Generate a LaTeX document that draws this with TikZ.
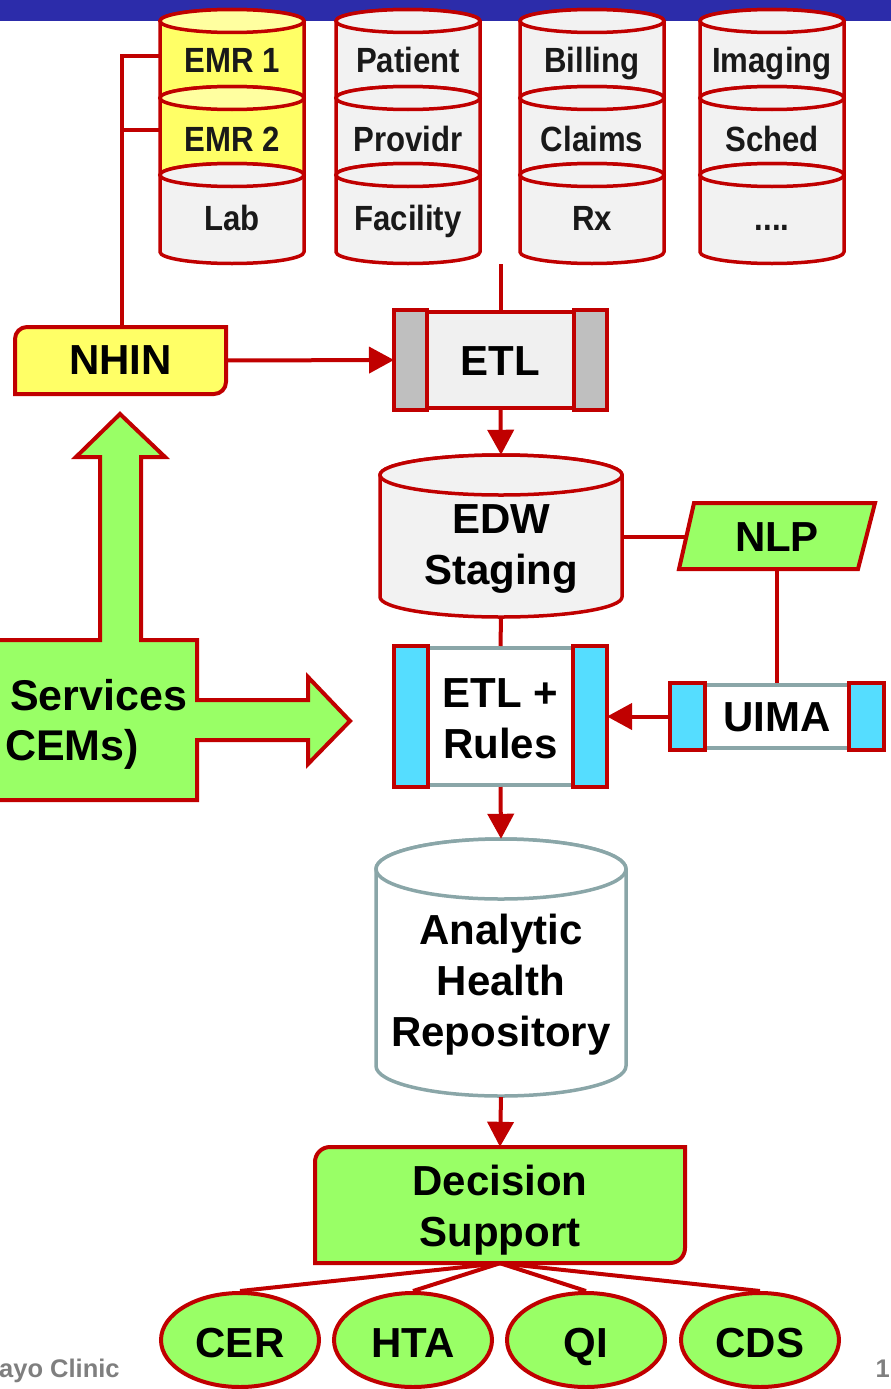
\documentclass[tikz,border=0pt]{standalone}
\usepackage{fontspec}
\setmainfont{Liberation Sans}
\usetikzlibrary{arrows.meta,shapes.geometric}
\definecolor{myred}{RGB}{192,0,0}
\definecolor{barblue}{RGB}{44,44,170}
\definecolor{yside}{RGB}{255,255,102}
\definecolor{ytop}{RGB}{255,255,160}
\definecolor{grayfill}{RGB}{242,242,242}
\definecolor{etlmid}{RGB}{240,240,240}
\definecolor{etlbar}{RGB}{191,191,191}
\definecolor{lgreen}{RGB}{153,255,102}
\definecolor{lcyan}{RGB}{85,221,255}
\definecolor{tealgray}{RGB}{138,166,168}
\definecolor{footgray}{RGB}{127,127,127}
\newcommand\dbcyl[8]{%
  \filldraw[draw=#8, fill=#6, line width=3.5pt, line join=round]
    (#1-#4,-#2) -- (#1-#4,-#3) arc[start angle=180,end angle=360,x radius=#4,y radius=#5]
    -- (#1+#4,-#2) arc[start angle=0,end angle=180,x radius=#4,y radius=#5] -- cycle;
  \filldraw[draw=#8, fill=#7, line width=3.5pt] (#1,-#2) ellipse[x radius=#4, y radius=#5];
}
\tikzset{
  conn/.style={draw=myred, line width=4pt},
  arr/.style={conn, -{Triangle[length=25pt,width=26pt]}},
  big/.style={font=\fontsize{42}{51}\selectfont\bfseries, align=center, inner sep=0},
  small/.style={font=\fontsize{35}{40}\selectfont\bfseries, xscale=0.89, text=black!90, inner sep=0, anchor=base},
  body/.style={inner sep=0, minimum width=144pt, minimum height=77pt},
  redline/.style={draw=myred, line width=4pt},
  oval/.style={ellipse, draw=myred, fill=lgreen, line width=4pt, minimum width=158pt, minimum height=94pt, inner sep=0, text height=35pt, text depth=0pt, font=\fontsize{42}{51}\selectfont\bfseries},
  foot/.style={font=\fontsize{25.5}{28}\selectfont\bfseries, text=footgray, inner sep=0}
}
\begin{document}
\begin{tikzpicture}[x=1pt,y=1pt]
\useasboundingbox (0,0) rectangle (891,-1389);
\clip (0,0) rectangle (891,-1389);
% top bar
\fill[barblue] (0,0) rectangle (891,-21);
% source cylinders
\dbcyl{232}{21}{98}{72}{11.5}{yside}{ytop}{myred}
\dbcyl{232}{98}{175}{72}{11.5}{yside}{ytop}{myred}
\dbcyl{232}{175}{252}{72}{11.5}{grayfill}{grayfill}{myred}
\dbcyl{408}{21}{98}{72}{11.5}{grayfill}{grayfill}{myred}
\dbcyl{408}{98}{175}{72}{11.5}{grayfill}{grayfill}{myred}
\dbcyl{408}{175}{252}{72}{11.5}{grayfill}{grayfill}{myred}
\dbcyl{592}{21}{98}{72}{11.5}{grayfill}{grayfill}{myred}
\dbcyl{592}{98}{175}{72}{11.5}{grayfill}{grayfill}{myred}
\dbcyl{592}{175}{252}{72}{11.5}{grayfill}{grayfill}{myred}
\dbcyl{772}{21}{98}{72}{11.5}{grayfill}{grayfill}{myred}
\dbcyl{772}{98}{175}{72}{11.5}{grayfill}{grayfill}{myred}
\dbcyl{772}{175}{252}{72}{11.5}{grayfill}{grayfill}{myred}
\node[body] (emr1) at (232,-59.5) {};
\node[body] (emr2) at (232,-136.5) {};
\node[small] (emr1t) at (232,-73) {EMR 1};
\node[small] (emr2t) at (232,-151) {EMR 2};
\node[small] (lab) at (232,-230) {Lab};
\node[small] (patient) at (408,-73) {Patient};
\node[small] (providr) at (408,-151) {Providr};
\node[small] (facility) at (408,-230) {Facility};
\node[small] (billing) at (592,-73) {Billing};
\node[small] (claims) at (592,-151) {Claims};
\node[small] (rx) at (592,-230) {Rx};
\node[small] (imaging) at (772,-73) {Imaging};
\node[small] (sched) at (772,-151) {Sched};
\node[small] (dots) at (772,-230) {....};
% NHIN
\filldraw[fill=yside, redline] (15,-394) -- (15,-339) arc[start angle=180,end angle=90,radius=12]
  -- (226,-327) -- (226,-382) arc[start angle=0,end angle=-90,radius=12] -- cycle;
\node[big, minimum width=211pt, minimum height=67pt] (nhin) at (120.5,-360.5) {NHIN};
% ETL
\node[draw=myred, fill=etlmid, line width=4pt, minimum width=209pt, minimum height=96pt, inner sep=0] (etl) at (500.5,-360) {};
\filldraw[fill=etlbar, redline] (etl.north west) rectangle ([xshift=33pt]etl.south west);
\filldraw[fill=etlbar, redline] (etl.north east) rectangle ([xshift=-33pt]etl.south east);
\node[big] (etlt) at (500.5,-361) {ETL};
\coordinate (etltop) at (500.5,-264);
\coordinate (j1) at (122,-56);
\coordinate (j2) at (122,-130);
\draw[conn] (nhin.north -| j1) -- (j1) -- (j1 -| emr1.west);
\draw[conn] (j2) -- (j2 -| emr2.west);
\draw[conn] (etltop) -- (etl.north);
\draw[arr] (nhin.east) -- (etl.west);
% EDW staging
\dbcyl{501}{475}{597}{121}{20}{grayfill}{grayfill}{myred}
\node[inner sep=0, minimum width=242pt, minimum height=162pt] (edw) at (501,-536) {};
\node[big] (edwt) at (501,-549) {EDW\\Staging};
\draw[arr] (etl.south) -- (edw.north);
% NLP
\filldraw[fill=lgreen, redline] (694,-503) -- (875,-503) -- (858,-569) -- (679,-569) -- cycle;
\node[big] (nlp) at (777,-537) {NLP};
\coordinate (nlpw) at (686.5,-537);
\coordinate (nlps) at (777,-569);
\draw[conn] (edw.east |- nlpw) -- (nlpw);
% ETL + Rules
\node[draw=tealgray, fill=white, line width=4pt, minimum width=209pt, minimum height=137pt, inner sep=0] (etlr) at (500.5,-716.5) {};
\filldraw[fill=lcyan, redline] (etlr.north west) rectangle ([xshift=34pt]etlr.south west);
\filldraw[fill=lcyan, redline] (etlr.north east) rectangle ([xshift=-34pt]etlr.south east);
\node[big] (etlrt) at (500.5,-719) {ETL +\\Rules};
% UIMA
\node[draw=tealgray, fill=white, line width=4pt, minimum width=210pt, minimum height=63pt, inner sep=0] (uima) at (777,-716.5) {};
\filldraw[fill=lcyan, redline] (uima.north west) rectangle ([xshift=35pt]uima.south west);
\filldraw[fill=lcyan, redline] (uima.north east) rectangle ([xshift=-35pt]uima.south east);
\node[big] (uimat) at (777,-717) {UIMA};
\draw[conn] (nlps) -- (uima.north);
\draw[conn] (edw.south) -- (etlr.north);
\draw[arr] (uima.west) -- (etlr.east);
% Services arrows
\filldraw[fill=lgreen, redline, line join=miter]
  (-10,-640) -- (100,-640) -- (100,-457) -- (76,-457) -- (120,-414) -- (165,-457) -- (141,-457)
  -- (141,-640) -- (197,-640) -- (197,-700) -- (308,-700) -- (308,-677) -- (350,-721)
  -- (308,-764) -- (308,-740) -- (197,-740) -- (197,-800) -- (-10,-800) -- cycle;
\node[big, anchor=base west, font=\fontsize{43}{51}\selectfont\bfseries] (svc1) at (10,-710) {Services};
\node[big, anchor=base west, font=\fontsize{43}{51}\selectfont\bfseries] (svc2) at (5,-760) {CEMs)};
% Analytic Health Repository
\dbcyl{501}{869}{1066}{125}{30}{white}{white}{tealgray}
\node[inner sep=0, minimum width=250pt, minimum height=258pt] (ahr) at (501,-968) {};
\node[big] (ahrt) at (501,-985) {Analytic\\Health\\Repository};
\draw[arr] (etlr.south) -- (ahr.north);
% Decision support
\filldraw[fill=lgreen, redline] (315,-1263) -- (315,-1162) arc[start angle=180,end angle=90,radius=15]
  -- (685,-1147) -- (685,-1248) arc[start angle=0,end angle=-90,radius=15] -- cycle;
\node[inner sep=0, minimum width=370pt, minimum height=116pt] (ds) at (500,-1205) {};
\node[big] (dst) at (500,-1210) {Decision\\Support};
\draw[arr] (ahr.south) -- (ds.north);
% outcomes
\node[oval] (cer) at (240,-1340) {CER};
\node[oval] (hta) at (413,-1340) {HTA};
\node[oval] (qi) at (586,-1340) {QI};
\node[oval] (cds) at (760,-1340) {CDS};
\draw[conn] (ds.south) -- (cer.north);
\draw[conn] (ds.south) -- (hta.north);
\draw[conn] (ds.south) -- (qi.north);
\draw[conn] (ds.south) -- (cds.north);
% footer
\node[foot, anchor=base west] (mayo) at (-1,-1377) {ayo Clinic};
\node[foot, anchor=base east] (pg) at (890,-1377) {1};
\end{tikzpicture}
\end{document}
